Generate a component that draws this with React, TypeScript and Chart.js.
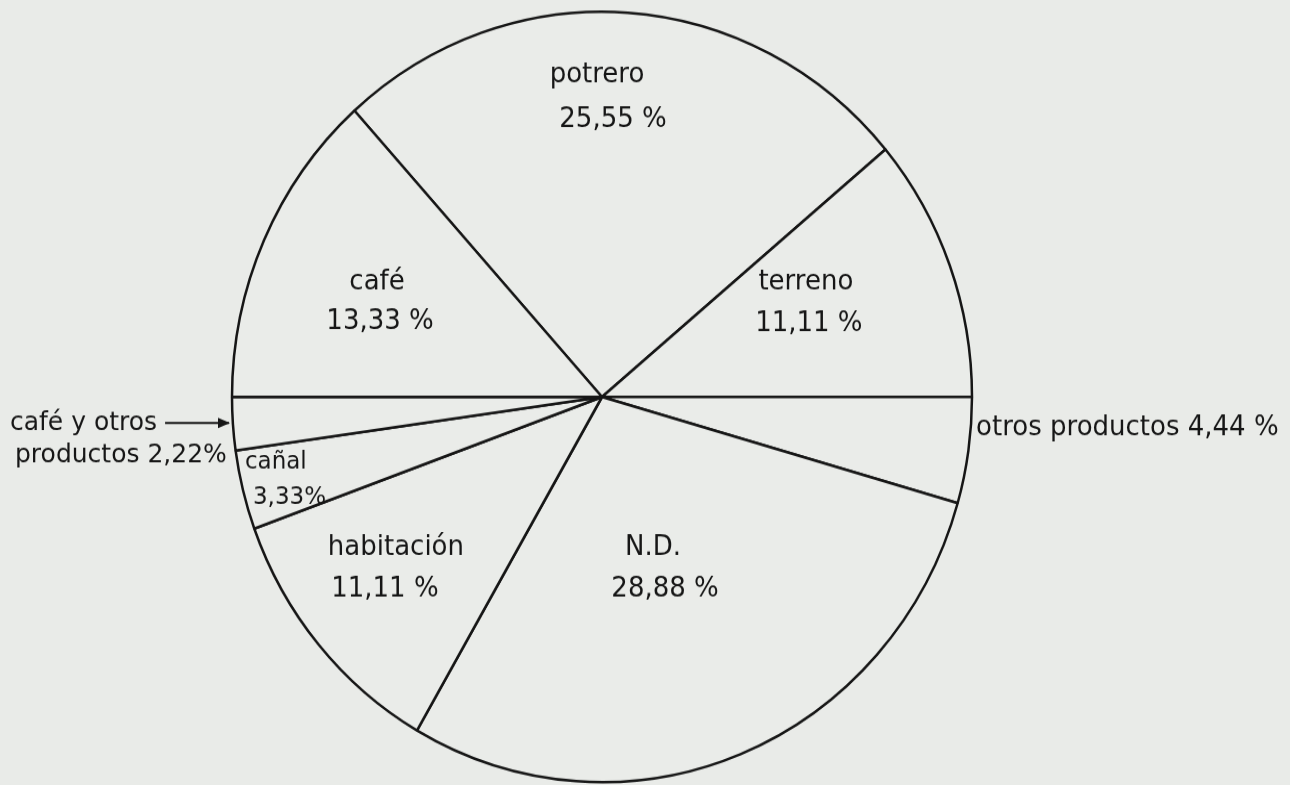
import React, { useEffect, useRef } from "react";
import { Chart, registerables } from "chart.js";

Chart.register(...registerables);

// ---- data ----
const categories = [
  "potrero",
  "terreno",
  "otros productos",
  "N.D.",
  "habitación",
  "cañal",
  "café y otros productos",
  "café",
];
const percentages = [25.55, 11.11, 4.44, 28.88, 11.11, 3.33, 2.22, 13.33];
// name lines of each slice label (the value is appended from percentages)
const labelNames = [
  ["potrero"],
  ["terreno"],
  ["otros productos"],
  ["N.D."],
  ["habitación"],
  ["cañal"],
  ["café y otros", "productos"],
  ["café"],
];

// ---- label placement: first line position relative to pie centre, in radius units ----
const labelPlacement = [
  { dx: -0.0135, dy: -0.836, gap: 43, shift: 16, align: "center", inline: false, pctSpace: " ", size: 26, arrow: false },
  { dx: 0.551, dy: -0.296, gap: 40, shift: 3, align: "center", inline: false, pctSpace: " ", size: 26, arrow: false },
  { dx: 1.011, dy: 0.0805, gap: 0, shift: 0, align: "left", inline: true, pctSpace: " ", size: 26, arrow: false },
  { dx: 0.138, dy: 0.392, gap: 40, shift: 12, align: "center", inline: false, pctSpace: " ", size: 26, arrow: false },
  { dx: -0.557, dy: 0.392, gap: 40, shift: -11, align: "center", inline: false, pctSpace: " ", size: 26, arrow: false },
  { dx: -0.965, dy: 0.171, gap: 34, shift: 8, align: "left", inline: false, pctSpace: "", size: 23, arrow: false },
  { dx: -1.6, dy: 0.0675, gap: 31, shift: 5, align: "left", inline: true, pctSpace: "", size: 25, arrow: true },
  { dx: -0.608, dy: -0.296, gap: 38, shift: 3, align: "center", inline: false, pctSpace: " ", size: 26, arrow: false },
];

const PAGE_W = 1290;
const PAGE_H = 785;
const CANVAS_H = 754; // drawn height; stretched vertically to the page (scan is slightly elliptical)
const BG = "#e9ebe8";
const INK = "#161616";
const FONT = "'DejaVu Sans', sans-serif";

const fmt = (v: number) => v.toFixed(2).replace(".", ",");

const labelPlugin = {
  id: "sliceLabels",
  afterDatasetsDraw(chart: any) {
    const meta = chart.getDatasetMeta(0);
    if (!meta.data.length) return;
    const arc0 = meta.data[0];
    const cx = arc0.x;
    const cy = arc0.y;
    const r = arc0.outerRadius;
    const ctx = chart.ctx;
    ctx.save();
    ctx.fillStyle = INK;
    ctx.strokeStyle = INK;
    ctx.textBaseline = "middle";
    meta.data.forEach((_: any, i: number) => {
      const p = labelPlacement[i];
      const names = labelNames[i];
      const pct = fmt(percentages[i]) + p.pctSpace + "%";
      let lines: string[];
      if (p.inline) {
        lines = names.slice();
        lines[lines.length - 1] = lines[lines.length - 1] + " " + pct;
      } else {
        lines = [...names, pct];
      }
      ctx.font = `${p.size}px ${FONT}`;
      ctx.textAlign = p.align;
      const x = cx + p.dx * r;
      const y = cy + p.dy * r;
      lines.forEach((t, k) => ctx.fillText(t, x + (k > 0 ? p.shift : 0), y + k * p.gap));
      if (p.arrow) {
        const w = ctx.measureText(lines[0]).width;
        const x0 = x + w + 8;
        const x1 = cx - r - 3;
        ctx.lineWidth = 2;
        ctx.beginPath();
        ctx.moveTo(x0, y);
        ctx.lineTo(x1, y);
        ctx.stroke();
        ctx.beginPath();
        ctx.moveTo(x1 + 1, y);
        ctx.lineTo(x1 - 11, y - 5);
        ctx.lineTo(x1 - 11, y + 5);
        ctx.closePath();
        ctx.fill();
      }
    });
    ctx.restore();
  },
};

export default function App() {
  const ref = useRef<HTMLCanvasElement | null>(null);
  useEffect(() => {
    if (!ref.current) return;
    const chart = new Chart(ref.current, {
      type: "pie",
      data: {
        labels: categories,
        datasets: [
          {
            data: percentages,
            backgroundColor: "#eaece9",
            borderColor: INK,
            borderWidth: 2.5,
            borderAlign: "center",
          },
        ],
      },
      options: {
        responsive: false,
        animation: false,
        rotation: -42,
        layout: { padding: { left: 0, right: 86, top: 10, bottom: 1.5 } },
        plugins: {
          legend: { display: false },
          tooltip: { enabled: false },
        },
      },
      plugins: [labelPlugin],
    } as any);
    return () => chart.destroy();
  }, []);
  return (
    <div
      style={{
        position: "fixed",
        left: 0,
        top: 0,
        width: PAGE_W,
        height: PAGE_H,
        background: BG,
        overflow: "hidden",
      }}
    >
      <div
        style={{
          width: PAGE_W,
          height: CANVAS_H,
          transform: `scaleY(${PAGE_H / CANVAS_H})`,
          transformOrigin: "0 0",
        }}
      >
        <canvas
          ref={ref}
          width={PAGE_W}
          height={CANVAS_H}
          style={{ display: "block", width: PAGE_W, height: CANVAS_H }}
        />
      </div>
    </div>
  );
}
